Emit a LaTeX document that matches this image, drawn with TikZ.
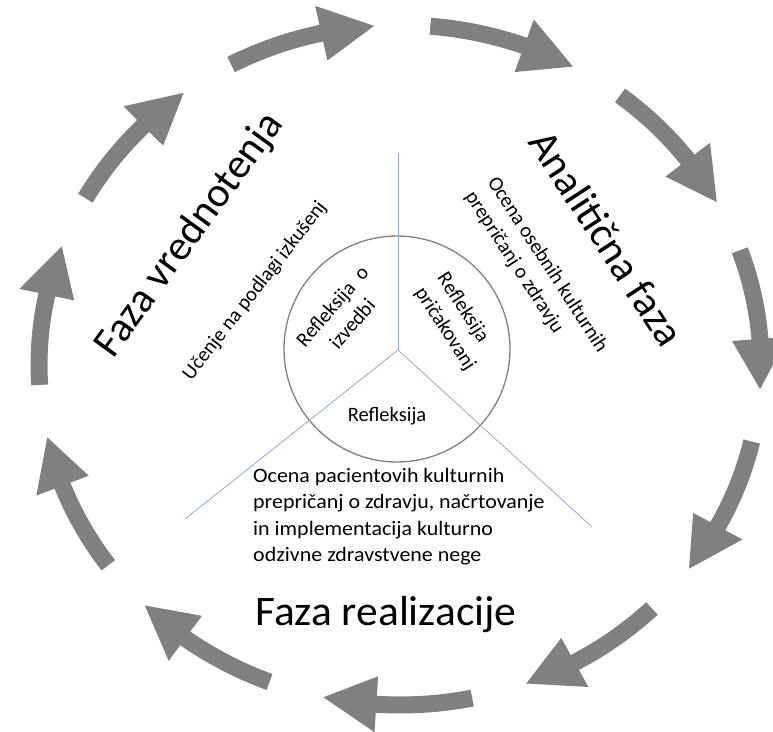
\documentclass[tikz,border=0pt]{standalone}
\usepackage{fontspec}
\setmainfont{Carlito}
\newfontfamily\horfont{Carlito}[FakeStretch=1.07]
\newfontfamily\bighorfont{Carlito}[FakeStretch=1.035]
\definecolor{arrowgray}{RGB}{128,128,128}
\definecolor{ringgray}{RGB}{128,128,128}
\definecolor{linblue}{RGB}{143,170,220}
\begin{document}
\begin{tikzpicture}[x=1pt,y=1pt,
  big/.style={font=\fontsize{42}{50}\selectfont, inner sep=0pt},
  small/.style={font=\fontsize{20.5}{26.5}\selectfont, inner sep=0pt},
  shaft/.style={draw=arrowgray, line width=17pt},
  head/.style={fill=arrowgray},
  spoke/.style={draw=linblue, line width=0.8pt},
  ring/.style={draw=ringgray, line width=1.3pt}]
\useasboundingbox (0,0) rectangle (773,731);
% ring of curved arrows
\foreach \k in {0,...,10}{
  \pgfmathsetmacro{\T}{117.9-32.727*\k}
  \pgfmathsetmacro{\P}{\T-23.8}
  \pgfmathsetmacro{\B}{\P+8.5}
  \pgfmathsetmacro{\E}{\B-0.6}
  \draw[shaft] ({400+361*cos(\T)},{366+340*sin(\T)}) arc[start angle=\T, end angle=\E, x radius=361, y radius=340];
  \fill[head] ({400+361*cos(\P)},{366+340*sin(\P)}) -- ({400+389*cos(\B)},{366+368*sin(\B)}) -- ({400+333*cos(\B)},{366+312*sin(\B)}) -- cycle;
}
% inner circle and spokes
\node[ring, circle, minimum size=226pt, inner sep=0pt] (inner) at (397,382) {};
\coordinate (c) at (398,381);
\coordinate (up) at (398,578);
\coordinate (dl) at (185,212);
\coordinate (dr) at (592,204);
\draw[spoke] (c) -- (up);
\draw[spoke] (c) -- (dl);
\draw[spoke] (c) -- (dr);
% big labels
\node[big, rotate=54] (fv) at (190,496) {Faza vrednotenja};
\node[big, rotate=-57] (af) at (607,493) {Analitična faza};
\node[big, anchor=base west] (fr) at (255,106) {\bighorfont Faza realizacije};
% small labels
\node[small, rotate=52] (ucenje) at (255,440) {Učenje na podlagi izkušenj};
\node[small, rotate=-57, align=left] (ocenaos) at (536,459) {Ocena osebnih kulturnih\\prepričanj o zdravju};
\node[small, align=left, anchor=north west, font=\fontsize{20.5}{26.5}\horfont] (ocenapa) at (253,263) {Ocena pacientovih kulturnih\\prepričanj o zdravju, načrtovanje\\in implementacija kulturno\\odzivne zdravstvene nege};
\node[small, rotate=49, align=center] (rizv) at (342,416) {Refleksija\ \ o\\izvedbi};
\node[small, rotate=-57, align=left] (rpri) at (456,409) {Refleksija\\pričakovanj};
\node[small, anchor=base] (ref) at (387,309) {Refleksija};
\end{tikzpicture}
\end{document}
